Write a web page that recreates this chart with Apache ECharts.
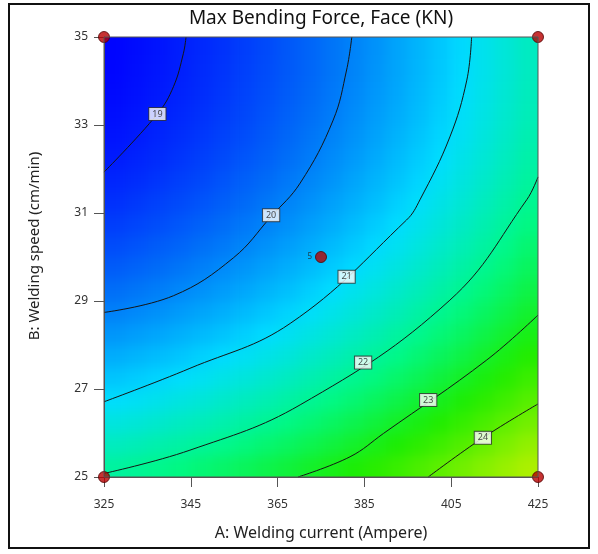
<!DOCTYPE html>
<html>
<head>
<meta charset="utf-8">
<script src="https://cdn.jsdelivr.net/npm/echarts@6/dist/echarts.min.js"></script>
<style>
  html, body { margin: 0; padding: 0; background: #fff; }
  #wrap { position: relative; width: 598px; height: 554px; }
  #surface, #chart { position: absolute; left: 0; top: 0; width: 598px; height: 554px; }
  /* soften the cell edges of the shaded surface, keep it inside the plot frame */
  #surface { filter: blur(7px); clip-path: inset(37px 60px 77px 104px); }
</style>
</head>
<body>
<div id="wrap">
  <div id="surface"></div>
  <div id="chart"></div>
</div>
<script>
// Max Bending Force, Face (KN) - contour plot, A: welding current vs B: welding speed

const currentTicks = [325, 345, 365, 385, 405, 425]
const speedTicks = [25, 27, 29, 31, 33, 35]

// cell centres of the shaded surface
const currentCells = [327.5, 332.5, 337.5, 342.5, 347.5, 352.5, 357.5, 362.5, 367.5, 372.5,
  377.5, 382.5, 387.5, 392.5, 397.5, 402.5, 407.5, 412.5, 417.5, 422.5]
const speedCells = [25.25, 25.75, 26.25, 26.75, 27.25, 27.75, 28.25, 28.75, 29.25, 29.75,
  30.25, 30.75, 31.25, 31.75, 32.25, 32.75, 33.25, 33.75, 34.25, 34.75]

// force, one row per speedCells value (bottom row first)
const force = [
  [21.94, 22.02, 22.11, 22.20, 22.31, 22.42, 22.54, 22.67, 22.80, 22.95, 23.10, 23.25, 23.42, 23.59, 23.78, 23.96, 24.16, 24.37, 24.58, 24.80],
  [21.62, 21.70, 21.79, 21.88, 21.99, 22.10, 22.22, 22.35, 22.48, 22.62, 22.77, 22.93, 23.10, 23.27, 23.45, 23.64, 23.84, 24.04, 24.26, 24.48],
  [21.31, 21.39, 21.48, 21.58, 21.68, 21.79, 21.91, 22.04, 22.18, 22.32, 22.47, 22.63, 22.79, 22.97, 23.15, 23.34, 23.53, 23.74, 23.95, 24.17],
  [21.02, 21.10, 21.19, 21.29, 21.39, 21.51, 21.63, 21.75, 21.89, 22.03, 22.18, 22.34, 22.51, 22.68, 22.86, 23.05, 23.25, 23.45, 23.66, 23.88],
  [20.75, 20.83, 20.92, 21.02, 21.12, 21.24, 21.35, 21.48, 21.62, 21.76, 21.91, 22.07, 22.23, 22.41, 22.59, 22.78, 22.98, 23.18, 23.39, 23.61],
  [20.50, 20.58, 20.67, 20.76, 20.87, 20.98, 21.10, 21.23, 21.36, 21.51, 21.66, 21.81, 21.98, 22.15, 22.34, 22.52, 22.72, 22.93, 23.14, 23.36],
  [20.26, 20.34, 20.43, 20.53, 20.63, 20.74, 20.86, 20.99, 21.13, 21.27, 21.42, 21.58, 21.74, 21.92, 22.10, 22.29, 22.48, 22.69, 22.90, 23.12],
  [20.04, 20.12, 20.21, 20.31, 20.41, 20.52, 20.64, 20.77, 20.91, 21.05, 21.20, 21.36, 21.52, 21.70, 21.88, 22.07, 22.27, 22.47, 22.68, 22.90],
  [19.84, 19.92, 20.01, 20.11, 20.21, 20.32, 20.44, 20.57, 20.70, 20.85, 21.00, 21.16, 21.32, 21.50, 21.68, 21.87, 22.06, 22.27, 22.48, 22.70],
  [19.65, 19.74, 19.82, 19.92, 20.03, 20.14, 20.26, 20.38, 20.52, 20.66, 20.81, 20.97, 21.14, 21.31, 21.49, 21.68, 21.88, 22.08, 22.29, 22.51],
  [19.49, 19.57, 19.66, 19.75, 19.86, 19.97, 20.09, 20.22, 20.35, 20.49, 20.64, 20.80, 20.97, 21.14, 21.32, 21.51, 21.71, 21.91, 22.13, 22.35],
  [19.33, 19.42, 19.50, 19.60, 19.71, 19.82, 19.94, 20.06, 20.20, 20.34, 20.49, 20.65, 20.82, 20.99, 21.17, 21.36, 21.56, 21.76, 21.97, 22.19],
  [19.20, 19.28, 19.37, 19.47, 19.57, 19.68, 19.80, 19.93, 20.07, 20.21, 20.36, 20.52, 20.68, 20.86, 21.04, 21.23, 21.42, 21.63, 21.84, 22.06],
  [19.08, 19.16, 19.25, 19.35, 19.45, 19.57, 19.69, 19.81, 19.95, 20.09, 20.24, 20.40, 20.57, 20.74, 20.92, 21.11, 21.31, 21.51, 21.72, 21.94],
  [18.98, 19.06, 19.15, 19.25, 19.35, 19.47, 19.59, 19.71, 19.85, 19.99, 20.14, 20.30, 20.47, 20.64, 20.82, 21.01, 21.21, 21.41, 21.62, 21.84],
  [18.90, 18.98, 19.07, 19.17, 19.27, 19.38, 19.50, 19.63, 19.77, 19.91, 20.06, 20.22, 20.38, 20.56, 20.74, 20.93, 21.12, 21.33, 21.54, 21.76],
  [18.84, 18.92, 19.01, 19.10, 19.21, 19.32, 19.44, 19.57, 19.70, 19.84, 19.99, 20.15, 20.32, 20.49, 20.67, 20.86, 21.06, 21.26, 21.47, 21.69],
  [18.79, 18.87, 18.96, 19.05, 19.16, 19.27, 19.39, 19.52, 19.65, 19.79, 19.94, 20.10, 20.27, 20.44, 20.62, 20.81, 21.01, 21.21, 21.43, 21.65],
  [18.75, 18.84, 18.93, 19.02, 19.13, 19.24, 19.36, 19.49, 19.62, 19.76, 19.91, 20.07, 20.24, 20.41, 20.59, 20.78, 20.98, 21.18, 21.39, 21.61],
  [18.74, 18.82, 18.91, 19.01, 19.11, 19.22, 19.34, 19.47, 19.61, 19.75, 19.90, 20.06, 20.22, 20.40, 20.58, 20.77, 20.96, 21.17, 21.38, 21.60]
]

// contour lines [current, speed]
const contour19 = [[325, 31.93], [337.3, 33.25], [341.0, 33.87], [343.3, 34.63], [343.9, 35]]
const contour20 = [[325, 28.74], [341.0, 29.12], [354.8, 29.98], [363.5, 30.92], [370.2, 31.68], [377.8, 33.11], [380.9, 34.25], [382.1, 35]]
const contour21 = [[325, 26.71], [344.8, 27.47], [367.9, 28.49], [394.7, 30.84], [397.8, 31.30], [404.7, 32.73], [408.6, 34.02], [409.7, 35]]
const contour22 = [[325, 25.08], [344.8, 25.61], [370.2, 26.64], [404.7, 29.02], [422.4, 31.30], [425, 31.82]]
const contour23 = [[369.7, 25], [381.7, 25.46], [389.4, 25.99], [413.2, 27.66], [425, 28.68]]
const contour24 = [[399.7, 25], [412.3, 25.89], [425, 26.66]]
const contourLabels = [[337.3, 33.25, '19'], [363.5, 30.95, '20'], [380.9, 29.55, '21'],
  [384.7, 27.6, '22'], [399.7, 26.75, '23'], [412.3, 25.89, '24']]

// design points, the centre one carries its run count
const designPoints = [[325, 25, ''], [325, 35, ''], [425, 25, ''], [425, 35, ''], [375, 30, '5']]

const font = 'Noto Sans'
const plotGrid = { left: 104, top: 37, width: 434, height: 440 }
const xRange = { min: 325, max: 425 }
const yRange = { min: 25, max: 35 }

let cells = []
for (let j = 0; j < speedCells.length; j++) {
  for (let i = 0; i < currentCells.length; i++) {
    cells.push([currentCells[i], speedCells[j], force[j][i]])
  }
}
const halfW = (currentCells[1] - currentCells[0]) / 2
const halfH = (speedCells[1] - speedCells[0]) / 2
const firstA = currentCells[0]
const lastA = currentCells[currentCells.length - 1]
const firstB = speedCells[0]
const lastB = speedCells[speedCells.length - 1]

// shaded surface, drawn on its own layer so it can be softened
const surface = echarts.init(document.getElementById('surface'), null, { renderer: 'canvas' })
surface.setOption({
  animation: false,
  grid: plotGrid,
  xAxis: { type: 'value', min: xRange.min, max: xRange.max, show: false },
  yAxis: { type: 'value', min: yRange.min, max: yRange.max, show: false },
  visualMap: {
    type: 'continuous',
    show: false,
    seriesIndex: 0,
    dimension: 2,
    min: 18.7,
    max: 25.6,
    inRange: { color: ['#0000ff', '#006ff8', '#00ddff', '#00f888', '#1ded00', '#8ef000', '#f0f000'] }
  },
  series: [{
    type: 'custom',
    data: cells,
    encode: { x: 0, y: 1 },
    silent: true,
    clip: false,
    renderItem: function (params, api) {
      const a = api.value(0)
      const b = api.value(1)
      const p0 = api.coord([a - halfW, b + halfH])
      const p1 = api.coord([a + halfW, b - halfH])
      // stretch the outer ring of cells past the frame so the blur keeps full colour at the edge
      let x0 = p0[0], y0 = p0[1], x1 = p1[0] + 0.6, y1 = p1[1] + 0.6
      if (a === firstA) x0 -= 20
      if (a === lastA) x1 += 20
      if (b === lastB) y0 -= 20
      if (b === firstB) y1 += 20
      return {
        type: 'rect',
        shape: { x: x0, y: y0, width: x1 - x0, height: y1 - y0 },
        style: { fill: api.visual('color') }
      }
    }
  }]
})

function contourSeries (data) {
  return {
    type: 'line',
    data: data,
    smooth: 0.4,
    showSymbol: false,
    silent: true,
    z: 3,
    lineStyle: { color: '#151515', width: 1 }
  }
}

const chart = echarts.init(document.getElementById('chart'), null, { renderer: 'canvas' })
chart.setOption({
  animation: false,
  backgroundColor: 'transparent',
  grid: plotGrid,
  xAxis: {
    type: 'value',
    min: xRange.min,
    max: xRange.max,
    name: 'A: Welding current (Ampere)',
    nameLocation: 'middle',
    nameGap: 48,
    nameTextStyle: { fontFamily: font, fontSize: 16, color: '#222' },
    axisLine: { show: true, onZero: false, lineStyle: { color: '#555' } },
    axisTick: { show: true, length: 10, customValues: currentTicks, lineStyle: { color: '#555' } },
    axisLabel: { customValues: currentTicks, margin: 22, fontFamily: font, fontSize: 12, color: '#333' },
    splitLine: { show: false }
  },
  yAxis: {
    type: 'value',
    min: yRange.min,
    max: yRange.max,
    axisLine: { show: true, onZero: false, lineStyle: { color: '#555' } },
    axisTick: { show: true, length: 10, customValues: speedTicks, lineStyle: { color: '#555' } },
    axisLabel: { customValues: speedTicks, margin: 16, fontFamily: font, fontSize: 12, color: '#333' },
    splitLine: { show: false }
  },
  graphic: [
    {
      type: 'text',
      x: 321,
      y: 19,
      z: 10,
      style: {
        text: 'Max Bending Force, Face (KN)',
        fontFamily: font,
        fontSize: 19,
        fill: '#111',
        textAlign: 'center',
        textVerticalAlign: 'middle'
      }
    },
    {
      type: 'text',
      x: 35,
      y: 246,
      rotation: Math.PI / 2,
      z: 10,
      style: {
        text: 'B: Welding speed (cm/min)',
        fontFamily: font,
        fontSize: 15,
        fill: '#222',
        textAlign: 'center',
        textVerticalAlign: 'middle'
      }
    },
    {
      type: 'rect',
      z: 10,
      shape: { x: 104, y: 37, width: 434, height: 440 },
      style: { fill: null, stroke: '#555', lineWidth: 1 }
    },
    {
      type: 'rect',
      z: 10,
      shape: { x: 9, y: 4, width: 580, height: 544 },
      style: { fill: null, stroke: '#111', lineWidth: 2 }
    }
  ],
  series: [
    contourSeries(contour19),
    contourSeries(contour20),
    contourSeries(contour21),
    contourSeries(contour22),
    contourSeries(contour23),
    contourSeries(contour24),
    {
      type: 'scatter',
      data: contourLabels,
      symbolSize: 1,
      silent: true,
      z: 5,
      itemStyle: { color: 'rgba(0,0,0,0)' },
      label: {
        show: true,
        position: 'inside',
        formatter: p => p.value[2],
        fontFamily: font,
        fontSize: 9,
        color: '#222',
        backgroundColor: '#fff',
        borderColor: '#333',
        borderWidth: 1,
        padding: [2, 3, 1, 3]
      }
    },
    {
      type: 'scatter',
      data: designPoints,
      symbolSize: 11,
      clip: false,
      silent: true,
      z: 6,
      itemStyle: { color: '#b80000', borderColor: '#500000', borderWidth: 1 },
      label: {
        show: true,
        position: 'left',
        distance: 3,
        formatter: p => p.value[2],
        fontFamily: font,
        fontSize: 8,
        color: '#222'
      }
    }
  ]
})
</script>
</body>
</html>
